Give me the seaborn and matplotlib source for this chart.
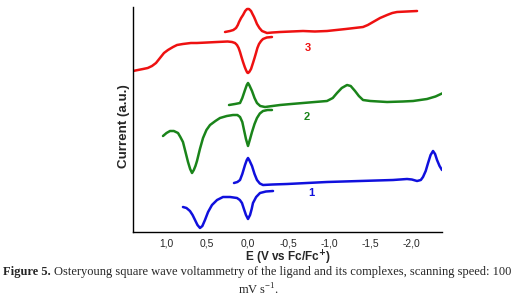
import pandas as pd
import seaborn as sns
import matplotlib.pyplot as plt

# Square wave voltammograms (E in V vs Fc/Fc+, current in a.u.)
# each complex has a reduction branch (low) and an oxidation branch (high)
red_low_E = [1.411, 1.35, 1.288, 1.23, 1.178, 1.129, 1.080, 1.031, 0.982, 0.920, 0.871, 0.80, 0.70,
             0.626, 0.50, 0.380, 0.25, 0.196, 0.16, 0.135, 0.115, 0.098, 0.08, 0.061, 0.04, 0.025,
             0.01, 0.0, -0.015, -0.037, -0.061, -0.08, -0.098, -0.115, -0.135, -0.16, -0.184,
             -0.23, -0.294]
red_low_I = [161, 162, 163, 164, 166, 169, 174, 179, 182, 185, 187, 188, 189,
             189, 189.5, 190, 190.5, 190, 189, 187, 184, 180, 175, 170, 165, 162,
             159.5, 159, 160, 163, 169, 174, 179, 184, 188, 191, 193,
             194.5, 195]
red_up_E = [0.282, 0.221, 0.18, 0.147, 0.125, 0.110, 0.085, 0.061, 0.035, 0.012, -0.012, -0.037,
            -0.055, -0.074, -0.090, -0.110, -0.14, -0.172, -0.233, -0.30, -0.393, -0.53, -0.675,
            -0.82, -0.969, -1.20, -1.411, -1.47, -1.534, -1.62, -1.706, -1.77, -1.828, -1.95, -2.074]
red_up_I = [200, 201, 202, 204, 207, 210, 214, 217, 221, 223, 223, 221,
            218, 215, 212, 208, 204, 201, 199, 199.5, 200, 200.5, 201,
            200.5, 201, 203, 205, 207, 210, 214, 217, 219, 220, 220.5, 221]

green_low_E = [1.043, 1.00, 0.957, 0.91, 0.859, 0.83, 0.798, 0.77, 0.736, 0.710, 0.687, 0.665,
               0.645, 0.626, 0.59, 0.552, 0.51, 0.466, 0.40, 0.344, 0.26, 0.184, 0.13, 0.098,
               0.07, 0.049, 0.025, 0.0, -0.025, -0.049, -0.08, -0.110, -0.145, -0.184, -0.24,
               -0.294]
green_low_I = [96, 99, 101, 101, 99, 95, 90, 81, 70, 63, 59, 62,
               66, 71, 83, 94, 102, 107, 111, 114, 116, 117, 117, 115,
               110, 102, 93, 86, 93, 100, 108, 114, 118.5, 121, 122,
               122]
green_up_E = [0.233, 0.16, 0.098, 0.07, 0.037, 0.015, 0.0, -0.015, -0.049, -0.08, -0.110, -0.15,
              -0.209, -0.30, -0.393, -0.53, -0.675, -0.82, -0.969, -1.04, -1.092, -1.15, -1.215,
              -1.26, -1.313, -1.36, -1.411, -1.50, -1.706, -1.90, -2.025, -2.196, -2.30, -2.393]
green_up_I = [127, 128, 129, 134, 142, 147, 149, 147, 141, 134, 129, 126,
              125, 126, 127, 128, 129, 130, 131, 134, 139, 144, 147,
              146, 141, 136, 132, 131, 130, 130.5, 131, 133, 135.5, 139]

blue_low_E = [0.798, 0.755, 0.712, 0.68, 0.650, 0.62, 0.589, 0.56, 0.528, 0.49, 0.442, 0.38,
              0.307, 0.22, 0.135, 0.10, 0.074, 0.05, 0.025, 0.0, -0.025, -0.045, -0.061, -0.10,
              -0.147, -0.22, -0.307]
blue_low_I = [25, 24, 21, 17, 12, 7, 4, 6, 12, 20, 27, 32,
              35, 35, 34, 32, 29, 23, 17, 13, 17, 23, 29, 35,
              39, 40.5, 41]
blue_up_E = [0.172, 0.13, 0.098, 0.07, 0.037, 0.015, 0.0, -0.015, -0.049, -0.08, -0.110, -0.145,
             -0.184, -0.30, -0.479, -0.969, -1.374, -1.779, -1.951, -2.01, -2.074, -2.12, -2.147,
             -2.18, -2.209, -2.24, -2.270, -2.295, -2.319, -2.35, -2.380]
blue_up_I = [49, 50, 52, 58, 67, 72, 74, 72, 66, 58, 52, 48.5,
             47, 47.5, 48, 50, 51, 52, 53, 52.5, 51, 52, 55,
             61, 69, 77, 81, 78, 72, 66, 62]

labels = ["3", "2", "1"]
label_E = [-0.736, -0.724, -0.773]
label_I = [184, 115, 39]
colors = ["#ee1111", "#1a841a", "#1010dd"]

xticks = [1.0, 0.5, 0.0, -0.5, -1.0, -1.5, -2.0]
xticklabels = ["1,0", "0,5", "0,0", "-0,5", "-1,0", "-1,5", "-2,0"]

# build one long table, one unit per branch
parts = []
for name, branches in [("3", [(red_low_E, red_low_I), (red_up_E, red_up_I)]),
                       ("2", [(green_low_E, green_low_I), (green_up_E, green_up_I)]),
                       ("1", [(blue_low_E, blue_low_I), (blue_up_E, blue_up_I)])]:
    for k, (e, i) in enumerate(branches):
        parts.append(pd.DataFrame({"E": e, "I": i, "sample": name, "branch": name + str(k)}))
df = pd.concat(parts, ignore_index=True)

sns.set_style("white")
plt.rcParams['font.family'] = ['Liberation Sans', 'DejaVu Sans']

fig = plt.figure(figsize=(5.16, 3.01), dpi=100)
ax = fig.add_axes([133 / 516, 69 / 301, 309 / 516, 225 / 301])

sns.lineplot(data=df, x="E", y="I", hue="sample", units="branch", estimator=None,
             sort=False, palette=dict(zip(labels, colors)), linewidth=1.8,
             legend=False, ax=ax, solid_joinstyle="round", solid_capstyle="round")

for t, e, i, c in zip(labels, label_E, label_I, colors):
    ax.text(e, i, t, color=c, fontsize=8, fontweight="bold", ha="center", va="center")

ax.set_xlim(1.411, -2.380)
ax.set_ylim(0, 225)
ax.set_xticks(xticks)
ax.set_xticklabels(xticklabels, fontsize=7.4)
ax.set_yticks([])
ax.tick_params(axis="x", length=0, pad=5)
sns.despine(ax=ax)
for s in ["left", "bottom"]:
    ax.spines[s].set_color("black")
    ax.spines[s].set_linewidth(1.0)

ax.set_xlabel(r"E (V vs Fc/Fc$^{\mathbf{+}}$)", fontsize=8.5, fontweight="bold", labelpad=0)
ax.set_ylabel("Current (a.u.)", fontsize=9.6, fontweight="bold")
ax.yaxis.set_label_coords(-0.010, 0.47)

# caption below the figure
cap_font = ['Liberation Serif', 'DejaVu Serif']
t1 = fig.text(3 / 516, 26 / 301, "Figure 5.", family=cap_font, fontweight="bold",
              fontsize=9, va="baseline", ha="left")
fig.canvas.draw()
bb = t1.get_window_extent()
x2 = (bb.x1 + 3) / fig.bbox.width
fig.text(x2, 26 / 301,
         "Osteryoung square wave voltammetry of the ligand and its complexes, scanning speed: 100",
         family=cap_font, fontsize=9, va="baseline", ha="left")
fig.text(258 / 516, 6 / 301, r"mV s$^{\mathregular{-1}}$.", family=cap_font, fontsize=9,
         va="baseline", ha="center")

plt.savefig("out.png", dpi=100)
